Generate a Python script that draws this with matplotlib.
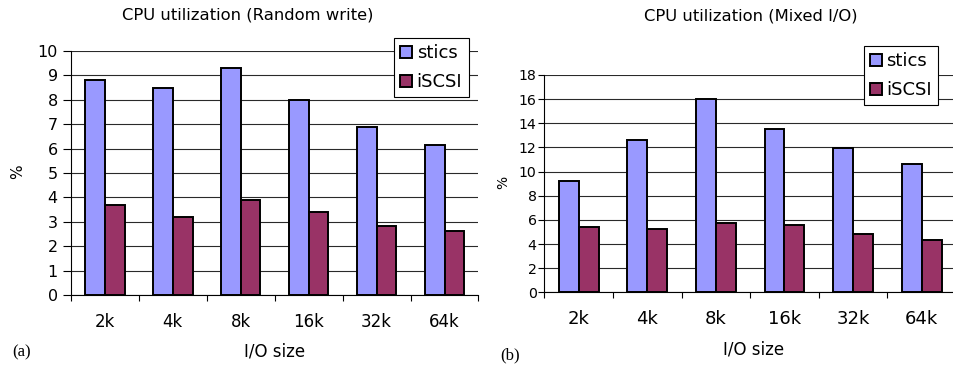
import matplotlib
matplotlib.use('Agg')
import matplotlib.pyplot as plt
import numpy as np

# --- data ---
io_sizes = ['2k', '4k', '8k', '16k', '32k', '64k']
series_names = ['stics', 'iSCSI']

write_stics = [8.8, 8.5, 9.3, 8.0, 6.9, 6.15]
write_iscsi = [3.67, 3.18, 3.9, 3.4, 2.84, 2.64]

mixed_stics = [9.2, 12.6, 16.0, 13.55, 11.95, 10.6]
mixed_iscsi = [5.4, 5.25, 5.75, 5.6, 4.8, 4.3]

COLOR_STICS = '#9999FF'
COLOR_ISCSI = '#993366'

plt.rcParams['font.family'] = ['DejaVu Sans']

W, H = 954, 369
fig = plt.figure(figsize=(W / 100, H / 100), dpi=100)


def px_axes(x0, y0, x1, y1):
    # pixel box (top-left origin) -> figure fraction rect
    return [x0 / W, 1 - y1 / H, (x1 - x0) / W, (y1 - y0) / H]


def draw_panel(ax, stics, iscsi, ymax, ystep, ytick_fs, xtick_fs, ypad, ylen):
    x = np.arange(len(io_sizes)) + 0.5
    bw = 0.29
    ax.bar(x - bw / 2, stics, bw, color=COLOR_STICS, edgecolor='black', linewidth=1.4,
           label=series_names[0], zorder=3)
    ax.bar(x + bw / 2, iscsi, bw, color=COLOR_ISCSI, edgecolor='black', linewidth=1.4,
           label=series_names[1], zorder=3)
    ax.set_xlim(0, len(io_sizes))
    ax.set_ylim(0, ymax)
    ax.set_yticks(np.arange(0, ymax + 0.01, ystep))
    ax.yaxis.grid(True, color='#2a2a2a', linewidth=0.8, zorder=0)
    ax.set_axisbelow(True)
    ax.set_xticks(x)
    ax.set_xticklabels(io_sizes, fontsize=xtick_fs)
    ax.set_xticks(np.arange(0, len(io_sizes) + 1), minor=True)
    ax.tick_params(axis='x', which='major', length=0, pad=13)
    ax.tick_params(axis='x', which='minor', length=4.5, width=0.8, direction='out')
    ax.tick_params(axis='y', labelsize=ytick_fs, length=ylen, width=0.8, direction='out', pad=ypad)
    for s in ['top', 'right']:
        ax.spines[s].set_visible(False)
    ax.spines['left'].set_linewidth(0.8)
    ax.spines['bottom'].set_linewidth(0.8)


# (a) random write
ax1 = fig.add_axes(px_axes(71, 51, 478.5, 295))
draw_panel(ax1, write_stics, write_iscsi, 10, 1, 11.5, 12, 4, 5.5)

# (b) mixed I/O
ax2 = fig.add_axes(px_axes(544.3, 75, 956, 292.3))
draw_panel(ax2, mixed_stics, mixed_iscsi, 18, 2, 10.2, 13, 1, 4.5)

# titles and labels
fig.text(248 / W, 1 - 15 / H, 'CPU utilization (Random write)', ha='center', va='center', fontsize=11.8)
fig.text(751 / W, 1 - 16 / H, 'CPU utilization (Mixed I/O)', ha='center', va='center', fontsize=11.8)
fig.text(18 / W, 1 - 172 / H, '%', rotation=90, ha='center', va='center', fontsize=11)
fig.text(503 / W, 1 - 182 / H, '%', rotation=90, ha='center', va='center', fontsize=10)
fig.text(275 / W, 1 - 352 / H, 'I/O size', ha='center', va='center', fontsize=12)
fig.text(754 / W, 1 - 350 / H, 'I/O size', ha='center', va='center', fontsize=12)
fig.text(22 / W, 1 - 352 / H, '(a)', ha='center', va='center', fontsize=12,
         family=['Liberation Serif', 'DejaVu Serif'])
fig.text(510 / W, 1 - 355 / H, '(b)', ha='center', va='center', fontsize=12,
         family=['Liberation Serif', 'DejaVu Serif'])

# legends
for ax, (lx, ly) in [(ax1, (394, 38)), (ax2, (863.7, 46))]:
    leg = ax.legend(loc='upper left', bbox_to_anchor=(lx / W, 1 - ly / H),
                    bbox_transform=fig.transFigure, borderaxespad=0,
                    fontsize=13, fancybox=False, shadow=False, framealpha=1,
                    edgecolor='black', handlelength=0.65, handleheight=0.65,
                    handletextpad=0.25, borderpad=0.35, labelspacing=0.6)
    leg.get_frame().set_linewidth(0.8)
    for h in leg.legend_handles:
        h.set_linewidth(1.4)
    leg.set_zorder(10)

plt.savefig('out.png', dpi=100)
